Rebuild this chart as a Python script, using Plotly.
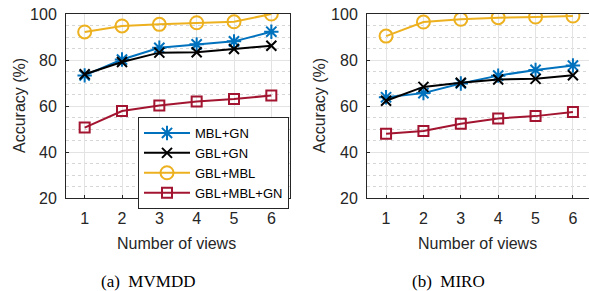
import plotly.graph_objects as go

views = [1, 2, 3, 4, 5, 6]
series_names = ["MBL+GN", "GBL+GN", "GBL+MBL", "GBL+MBL+GN"]

mvmdd_mbl_gn = [73.3, 80.2, 85.3, 86.8, 88.1, 92.3]
mvmdd_gbl_gn = [73.8, 79.1, 83.2, 83.4, 84.8, 86.2]
mvmdd_gbl_mbl = [92.2, 94.8, 95.5, 96.2, 96.6, 100.0]
mvmdd_all = [50.6, 57.8, 60.2, 62.0, 63.0, 64.6]

miro_mbl_gn = [63.8, 65.6, 69.8, 73.2, 75.7, 77.6]
miro_gbl_gn = [62.3, 68.3, 70.1, 71.5, 71.8, 73.4]
miro_gbl_mbl = [90.4, 96.5, 97.7, 98.4, 98.7, 99.1]
miro_all = [47.9, 49.1, 52.3, 54.6, 55.6, 57.4]

y_ticks = [20, 40, 60, 80, 100]
x_title = "Number of views"
y_title = "Accuracy (%)"
captions = ["(a)\u00a0\u00a0MVMDD", "(b)\u00a0\u00a0MIRO"]

colors = ["#0072BD", "#000000", "#EDB120", "#A2142F"]
symbols = ["asterisk-open", "x-thin-open", "circle-open", "square-open"]
sizes = [12, 10, 13, 10]

W, H = 589, 291
fig = go.Figure()

panels = [
    ([mvmdd_mbl_gn, mvmdd_gbl_gn, mvmdd_gbl_mbl, mvmdd_all], "x", "y", True),
    ([miro_mbl_gn, miro_gbl_gn, miro_gbl_mbl, miro_all], "x2", "y2", False),
]
for data, xa, ya, show in panels:
    for name, vals, c, s, sz in zip(series_names, data, colors, symbols, sizes):
        fig.add_trace(go.Scatter(
            x=views, y=vals, name=name, mode="lines+markers",
            xaxis=xa, yaxis=ya, showlegend=show,
            line=dict(color=c, width=2),
            marker=dict(symbol=s, size=sz, color=c, line=dict(color=c, width=2)),
        ))

font_color = "#262626"
axis_common = dict(
    showline=True, linecolor="#262626", linewidth=1, mirror=True,
    ticks="inside", ticklen=3, tickcolor="#262626", automargin=False,
    showgrid=True, gridcolor="#e3e3e3", gridwidth=1, zeroline=False,
    tickfont=dict(family="Liberation Sans", size=16, color=font_color),
)
minor = dict(dtick=5, showgrid=True, griddash="dot", gridcolor="#d6d6d6", ticks="")
yd = [1 - 198 / H, 1 - 14 / H]
fig.update_layout(
    width=W, height=H, margin=dict(l=0, r=0, t=0, b=0, autoexpand=False),
    paper_bgcolor="white", plot_bgcolor="white",
    xaxis=dict(domain=[66 / W, 290 / W], range=[0.5, 6.5], tickvals=views, anchor="y",
               ticklabelstandoff=6, **axis_common),
    yaxis=dict(domain=yd, range=[20, 100], tickvals=y_ticks, anchor="x", minor=minor,
               ticklabelstandoff=5, **axis_common),
    xaxis2=dict(domain=[367 / W, 1.0], range=[0.49, 6.43], tickvals=views, anchor="y2",
                ticklabelstandoff=6, **axis_common),
    yaxis2=dict(domain=yd, range=[20, 100], tickvals=y_ticks, anchor="x2", minor=minor,
                ticklabelstandoff=5, **axis_common),
    legend=dict(
        x=138 / W, y=1 - 117 / H, xanchor="left", yanchor="top",
        bgcolor="white", bordercolor="#262626", borderwidth=1,
        font=dict(family="Liberation Sans", size=13, color="#000000"),
        tracegroupgap=0, itemwidth=46,
    ),
    showlegend=True,
)

ann = []
for cx, cap in [(148, captions[0]), (448, captions[1])]:
    ann.append(dict(x=cx / W, y=1 - 281 / H, xref="paper", yref="paper", text=cap, showarrow=False,
                    font=dict(family="Liberation Serif", size=17, color="#000000"), xanchor="center", yanchor="middle"))
for cx in [176, 477]:
    ann.append(dict(x=cx / W, y=1 - 243 / H, xref="paper", yref="paper", text=x_title, showarrow=False,
                    font=dict(family="Liberation Sans", size=16, color=font_color), xanchor="center", yanchor="middle"))
for cx in [19, 319]:
    ann.append(dict(x=cx / W, y=1 - 106 / H, xref="paper", yref="paper", text=y_title, showarrow=False, textangle=-90,
                    font=dict(family="Liberation Sans", size=16, color=font_color), xanchor="center", yanchor="middle"))
fig.update_layout(annotations=ann)

fig.write_html("out.html", config={"displayModeBar": False},
               post_script="document.body.style.margin='0';")
